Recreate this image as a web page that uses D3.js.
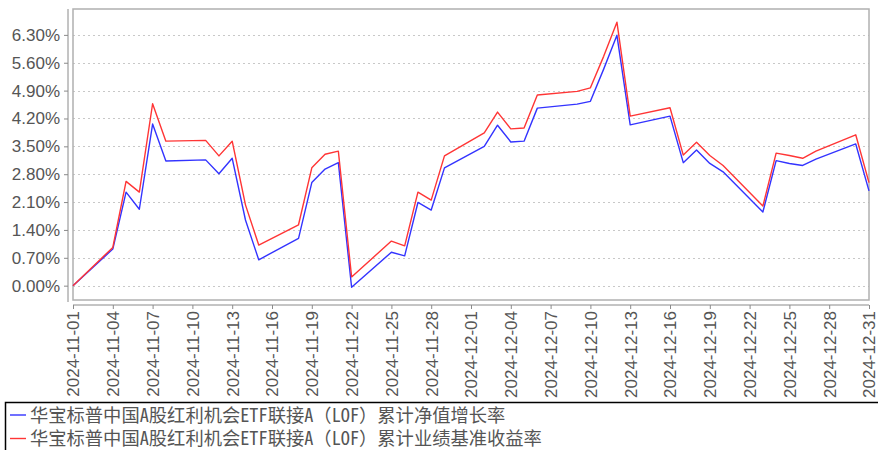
<!DOCTYPE html>
<meta charset="utf-8">
<style>
body {
  margin: 0;
  background: #fff;
  font-family: "Noto Sans Mono CJK SC", "Noto Sans CJK SC", sans-serif;
}
.grid line {
  stroke: #c8c8c8;
  stroke-dasharray: 2,3;
}
.axis text {
  fill: #555;
  font-size: 17px;
}
.axis path, .axis line {
  stroke: #8a8a8a;
}
.legend text {
  fill: #555;
  font-size: 18.3px;
}
</style>
<body>
<script src="https://cdn.jsdelivr.net/npm/d3@7"></script>
<script>

var width = 878,
    height = 450;

var dates = ["2024-11-01","2024-11-04","2024-11-05","2024-11-06","2024-11-07","2024-11-08",
  "2024-11-11","2024-11-12","2024-11-13","2024-11-14","2024-11-15",
  "2024-11-18","2024-11-19","2024-11-20","2024-11-21","2024-11-22",
  "2024-11-25","2024-11-26","2024-11-27","2024-11-28","2024-11-29",
  "2024-12-02","2024-12-03","2024-12-04","2024-12-05","2024-12-06",
  "2024-12-09","2024-12-10","2024-12-11","2024-12-12","2024-12-13",
  "2024-12-16","2024-12-17","2024-12-18","2024-12-19","2024-12-20",
  "2024-12-23","2024-12-24","2024-12-25","2024-12-26","2024-12-27",
  "2024-12-30","2024-12-31"];

// 累计净值增长率 (%)
var navGrowth = [0.00, 0.92, 2.35, 1.92, 4.06, 3.13,
  3.16, 2.81, 3.20, 1.65, 0.65,
  1.19, 2.59, 2.93, 3.09, -0.04,
  0.84, 0.75, 2.09, 1.90, 2.96,
  3.50, 4.03, 3.61, 3.63, 4.46,
  4.56, 4.63, 5.44, 6.29, 4.04,
  4.26, 3.09, 3.41, 3.07, 2.86,
  1.85, 3.14, 3.07, 3.02, 3.18,
  3.56, 2.38];

// 累计业绩基准收益率 (%)
var benchReturn = [0.00, 0.96, 2.62, 2.35, 4.57, 3.63,
  3.65, 3.26, 3.63, 2.03, 1.02,
  1.53, 2.96, 3.30, 3.38, 0.22,
  1.12, 1.00, 2.35, 2.15, 3.26,
  3.84, 4.36, 3.94, 3.96, 4.79,
  4.88, 4.97, 5.76, 6.62, 4.26,
  4.47, 3.28, 3.60, 3.27, 3.02,
  2.00, 3.33, 3.27, 3.20, 3.38,
  3.79, 2.59];

var xTicks = ["2024-11-01","2024-11-04","2024-11-07","2024-11-10","2024-11-13","2024-11-16",
  "2024-11-19","2024-11-22","2024-11-25","2024-11-28","2024-12-01","2024-12-04",
  "2024-12-07","2024-12-10","2024-12-13","2024-12-16","2024-12-19","2024-12-22",
  "2024-12-25","2024-12-28","2024-12-31"];

var yTicks = [0, 0.7, 1.4, 2.1, 2.8, 3.5, 4.2, 4.9, 5.6, 6.3];

var seriesNames = ["华宝标普中国A股红利机会ETF联接A（LOF）累计净值增长率",
  "华宝标普中国A股红利机会ETF联接A（LOF）累计业绩基准收益率"];
var seriesColors = ["#3333ff", "#ff3535"];

var parse = d3.timeParse("%Y-%m-%d");
var fmt = d3.timeFormat("%Y-%m-%d");

var plot = {left: 73, right: 869, top: 9, bottom: 300};

var x = d3.scaleTime()
    .domain([parse(xTicks[0]), parse(xTicks[xTicks.length - 1])])
    .range([plot.left, plot.right]);

var y = d3.scaleLinear()
    .domain([-0.36, 6.95])
    .range([plot.bottom, plot.top]);

var svg = d3.select("body").append("svg")
    .attr("width", width)
    .attr("height", height);

// gridlines
svg.append("g")
    .attr("class", "grid")
  .selectAll("line")
    .data(yTicks)
  .enter().append("line")
    .attr("x1", plot.left)
    .attr("x2", plot.right)
    .attr("y1", function(d) { return Math.round(y(d)) + 0.5; })
    .attr("y2", function(d) { return Math.round(y(d)) + 0.5; });

// plot frame
svg.append("rect")
    .attr("x", plot.left)
    .attr("y", plot.top)
    .attr("width", plot.right - plot.left)
    .attr("height", plot.bottom - plot.top)
    .attr("fill", "none")
    .attr("stroke", "#b0b0b0")
    .attr("stroke-width", 1.5);

// y axis
var yAxis = svg.append("g")
    .attr("class", "axis")
    .attr("transform", "translate(68,0)")
    .call(d3.axisLeft(y)
      .tickValues(yTicks)
      .tickSize(4)
      .tickPadding(4)
      .tickFormat(function(d) { return d3.format(".2f")(d) + "%"; }));
yAxis.select(".domain").attr("d", "M0," + plot.top + "V" + (plot.bottom + 2));

// x axis
var xAxis = svg.append("g")
    .attr("class", "axis")
    .attr("transform", "translate(0,305)")
    .call(d3.axisBottom(x)
      .tickValues(xTicks.map(parse))
      .tickSize(4)
      .tickFormat(fmt));
xAxis.select(".domain").attr("d", "M" + plot.left + ",0H" + plot.right);
xAxis.selectAll("text")
    .attr("transform", "rotate(-90)")
    .attr("text-anchor", "end")
    .attr("x", -6)
    .attr("y", 0)
    .attr("dy", "0.35em");

// lines
var line = d3.line()
    .x(function(d) { return x(d.date); })
    .y(function(d) { return y(d.value); });

[navGrowth, benchReturn].forEach(function(values, i) {
  var pts = dates.map(function(d, j) { return {date: parse(d), value: values[j]}; });
  svg.append("path")
      .datum(pts)
      .attr("fill", "none")
      .attr("stroke", seriesColors[i])
      .attr("stroke-width", 1.4)
      .attr("stroke-linejoin", "round")
      .attr("d", line);
});

// legend
var legend = svg.append("g").attr("class", "legend");
legend.append("rect")
    .attr("x", 5.5)
    .attr("y", 402.5)
    .attr("width", 1000)
    .attr("height", 100)
    .attr("fill", "none")
    .attr("stroke", "#000")
    .attr("stroke-width", 1.5);

var items = legend.selectAll(".item")
    .data(seriesNames)
  .enter().append("g")
    .attr("class", "item")
    .attr("transform", function(d, i) { return "translate(0," + (415 + i * 23.5) + ")"; });

items.append("line")
    .attr("x1", 10)
    .attr("x2", 26)
    .attr("stroke", function(d, i) { return seriesColors[i]; })
    .attr("stroke-width", 1.4);

items.append("text")
    .attr("x", 30)
    .attr("dy", "0.36em")
    .text(function(d) { return d; });

</script>
